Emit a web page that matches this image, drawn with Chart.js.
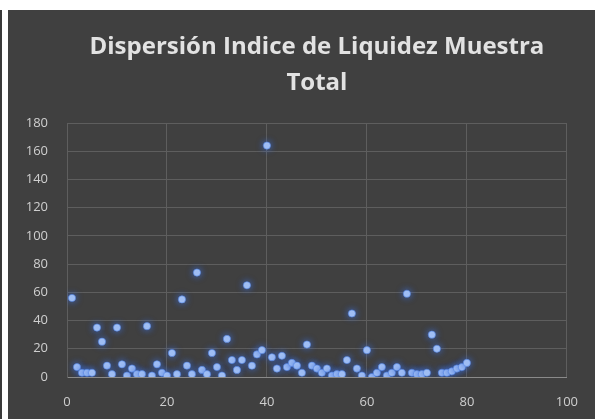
<!DOCTYPE html>
<html>
<head>
<meta charset="utf-8">
<script src="https://cdn.jsdelivr.net/npm/chart.js"></script>
<style>
  body { margin: 0; background: #ffffff; width: 595px; height: 419px; overflow: hidden; position: relative; }
  #edge { position: absolute; left: 0; top: 10px; width: 2px; height: 409px; background: #3a3a3a; }
  #wrap { position: absolute; left: 8px; top: 10px; width: 587px; height: 409px; background: #404040; }
</style>
</head>
<body>
<div id="edge"></div>
<div id="wrap"><canvas id="scatter" width="587" height="409"></canvas></div>
<script>
// Chart values
const titleLines = ['Dispersión Indice de Liquidez Muestra', 'Total'];

const xIndex = [
   1,  2,  3,  4,  5,  6,  7,  8,  9, 10,
  11, 12, 13, 14, 15, 16, 17, 18, 19, 20,
  21, 22, 23, 24, 25, 26, 27, 28, 29, 30,
  31, 32, 33, 34, 35, 36, 37, 38, 39, 40,
  41, 42, 43, 44, 45, 46, 47, 48, 49, 50,
  51, 52, 53, 54, 55, 56, 57, 58, 59, 60,
  61, 62, 63, 64, 65, 66, 67, 68, 69, 70,
  71, 72, 73, 74, 75, 76, 77, 78, 79, 80
];

const liquidez = [
  56,  7,  3,  3,  3, 35, 25,  8,  2, 35,
   9,  1,  6,  2,  2, 36,  1,  9,  3,  1,
  17,  2, 55,  8,  2, 74,  5,  2, 17,  7,
   1, 27, 12,  5, 12, 65,  8, 16, 19, 164,
  14,  6, 15,  7, 10,  8,  3, 23,  8,  6,
   3,  6,  1,  2,  2, 12, 45,  6,  1, 19,
   0,  3,  7,  1,  3,  7,  3, 59,  3,  2,
   2,  3, 30, 20,  3,  3,  4,  6,  7, 10
];

const xTicks = [0, 20, 40, 60, 80, 100];
const yTicks = [0, 20, 40, 60, 80, 100, 120, 140, 160, 180];

// soft blue glow around the markers, like the Excel style
const glow = {
  id: 'glow',
  beforeDatasetsDraw(chart) {
    chart.ctx.save();
    chart.ctx.shadowColor = 'rgba(60, 110, 220, 0.95)';
    chart.ctx.shadowBlur = 7;
  },
  afterDatasetsDraw(chart) {
    chart.ctx.restore();
  }
};

const points = xIndex.map((x, i) => ({ x: x, y: liquidez[i] }));

new Chart(document.getElementById('scatter'), {
  type: 'scatter',
  data: {
    datasets: [{
      data: points,
      backgroundColor: '#a9c6f7',
      borderColor: 'rgba(80, 130, 225, 0.6)',
      borderWidth: 1,
      pointRadius: 3.6
    }]
  },
  plugins: [glow],
  options: {
    responsive: false,
    animation: false,
    layout: { padding: { left: 0, right: 24, top: 0, bottom: 0 } },
    plugins: {
      legend: { display: false },
      tooltip: { enabled: false },
      title: {
        display: true,
        fullSize: false,
        text: titleLines,
        color: '#e2e2e2',
        font: { family: 'Open Sans', size: 24, weight: 'bold', lineHeight: 1.5 },
        padding: { top: 19, bottom: 22 }
      }
    },
    scales: {
      x: {
        type: 'linear',
        min: 0,
        max: 100,
        afterFit(scale) { scale.height = 42; },
        afterBuildTicks(scale) { scale.ticks = xTicks.map(v => ({ value: v })); },
        grid: { color: '#5e5e5e', lineWidth: 1, drawTicks: false },
        border: { color: '#8a8a8a' },
        ticks: { color: '#cfcfcf', padding: 17, font: { family: 'Open Sans', size: 13 } }
      },
      y: {
        type: 'linear',
        min: 0,
        max: 180,
        afterFit(scale) { scale.width = 59; },
        afterBuildTicks(scale) { scale.ticks = yTicks.map(v => ({ value: v })); },
        grid: { color: '#5e5e5e', lineWidth: 1, drawTicks: false },
        border: { color: '#5e5e5e' },
        ticks: { color: '#cfcfcf', padding: 19, font: { family: 'Open Sans', size: 13 } }
      }
    }
  }
});
</script>
</body>
</html>
